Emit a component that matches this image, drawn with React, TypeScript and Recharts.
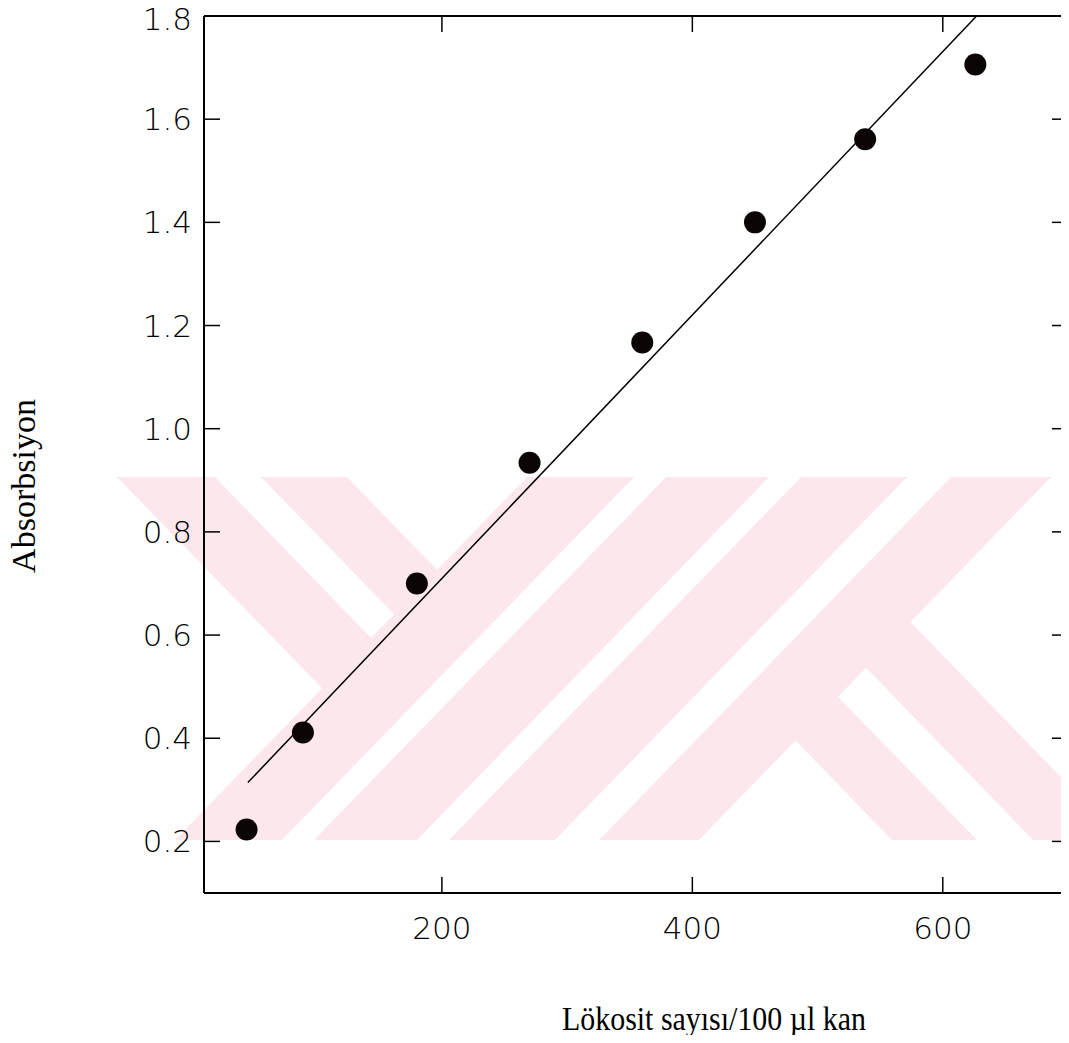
import React from 'react';
import { ComposedChart, Scatter, Line, XAxis, YAxis, Label } from 'recharts';

// Measured data (leukocyte count per 100 µl blood vs absorbance)
const leukocyteCounts = [44, 89, 180, 270, 360, 450, 538, 626];
const absorbanceValues = [0.223, 0.411, 0.7, 0.934, 1.167, 1.4, 1.561, 1.706];

// Regression line end points
const fitX = [45, 627];
const fitY = [0.314, 1.8];

const xTicks = [200, 400, 600];
const yTicks = [0.2, 0.4, 0.6, 0.8, 1.0, 1.2, 1.4, 1.6, 1.8];
const xDomain = [10, 700];
const yDomain = [0.1, 1.8];

const xTitle = 'Lökosit sayısı/100 µl kan';
const yTitle = 'Absorbsiyon';

const points = leukocyteCounts.map((x, i) => ({ x, y: absorbanceValues[i] }));
const fitLine = fitX.map((x, i) => ({ x, y: fitY[i] }));

// layout
const W = 1069;
const H = 1043;
const M_TOP = 15;
const TOP_AXIS_H = 1;
const BOTTOM_AXIS_H = 150;
const LEFT_AXIS_W = 204;
const RIGHT_AXIS_W = 1;
const PLOT_LEFT = LEFT_AXIS_W;
const PLOT_RIGHT = W - RIGHT_AXIS_W;
const PLOT_TOP = M_TOP + TOP_AXIS_H;
const PLOT_BOTTOM = H - BOTTOM_AXIS_H;

const TICK_LEN = 16;
const tickFont = {
  fontFamily: 'DejaVu Sans',
  fontWeight: 200,
  fontSize: 31,
  fill: '#000',
};
const titleFont = { fontFamily: 'Liberation Serif', fontSize: 34, fill: '#000' };

// ---- decorative background watermark (page pixel coordinates) ----
const WM_TOP = 477;
const WM_BOTTOM = 840;
const K = 0.97;
const slashBands: [number, number][] = [
  [175, 282],
  [314, 417],
  [449, 555],
  [599, 699],
];
const leftArms: [number, number][] = [
  [117, 215],
  [261, 347],
];
const rightArms: [number, number][] = [
  [892, 977],
  [1033, 1122],
];

function slashPoly([a, b]: [number, number]) {
  const h = WM_BOTTOM - WM_TOP;
  return [
    [a, WM_BOTTOM],
    [b, WM_BOTTOM],
    [b + K * h, WM_TOP],
    [a + K * h, WM_TOP],
  ];
}

function leftArmPoly([a, b]: [number, number], band: [number, number]) {
  const c = (band[0] + band[1]) / 2;
  const yFor = (e: number) => (c + K * WM_BOTTOM - e + K * WM_TOP) / (2 * K);
  const ya = yFor(a);
  const yb = yFor(b);
  return [
    [a, WM_TOP],
    [b, WM_TOP],
    [b + K * (yb - WM_TOP), yb],
    [a + K * (ya - WM_TOP), ya],
  ];
}

function rightArmPoly([a, b]: [number, number], band: [number, number]) {
  const c = (band[0] + band[1]) / 2;
  const dFor = (e: number) => (e - c) / (2 * K);
  const da = dFor(a);
  const db = dFor(b);
  return [
    [a, WM_BOTTOM],
    [b, WM_BOTTOM],
    [b - K * db, WM_BOTTOM - db],
    [a - K * da, WM_BOTTOM - da],
  ];
}

const Watermark = () => {
  const polys = [
    ...slashBands.map(slashPoly),
    ...leftArms.map((a) => leftArmPoly(a, slashBands[0])),
    ...rightArms.map((a) => rightArmPoly(a, slashBands[3])),
  ];
  return (
    <svg
      width={W}
      height={H}
      style={{ position: 'absolute', left: 0, top: 0, pointerEvents: 'none' }}
    >
      <defs>
        <clipPath id="wmclip">
          <rect x={0} y={WM_TOP} width={W} height={WM_BOTTOM - WM_TOP} />
        </clipPath>
      </defs>
      <g clipPath="url(#wmclip)" fill="#fce8ec">
        {polys.map((p, i) => (
          <polygon key={i} points={p.map((q) => q.join(',')).join(' ')} />
        ))}
      </g>
    </svg>
  );
};

// ---- inward ticks (position along the axis comes from the library) ----
const BottomTick = (props: any) => {
  const { x, payload } = props;
  return (
    <g>
      <line x1={x} y1={PLOT_BOTTOM} x2={x} y2={PLOT_BOTTOM - TICK_LEN} stroke="#000" strokeWidth={1.5} />
      <text x={x} y={PLOT_BOTTOM + 46} textAnchor="middle" {...tickFont}>
        {payload.value}
      </text>
    </g>
  );
};

const TopTick = (props: any) => {
  const { x } = props;
  return <line x1={x} y1={PLOT_TOP} x2={x} y2={PLOT_TOP + TICK_LEN} stroke="#000" strokeWidth={1.5} />;
};

const LeftTick = (props: any) => {
  const { y, payload } = props;
  const baseline = Math.max(y + 11, 30);
  return (
    <g>
      <line x1={PLOT_LEFT} y1={y} x2={PLOT_LEFT + TICK_LEN} y2={y} stroke="#000" strokeWidth={1.5} />
      <text x={PLOT_LEFT - 12} y={baseline} textAnchor="end" {...tickFont}>
        {Number(payload.value).toFixed(1)}
      </text>
    </g>
  );
};

const RightTick = (props: any) => {
  const { y } = props;
  return <line x1={PLOT_RIGHT - TICK_LEN} y1={y} x2={PLOT_RIGHT} y2={y} stroke="#000" strokeWidth={1.5} />;
};

const XTitle = () => (
  <text
    x={714}
    y={1030}
    textAnchor="middle"
    textLength={304}
    lengthAdjust="spacingAndGlyphs"
    {...titleFont}
  >
    {xTitle}
  </text>
);

const YTitle = () => {
  const tx = 35;
  const ty = 486;
  return (
    <text
      x={tx}
      y={ty}
      textAnchor="middle"
      transform={`rotate(-90, ${tx}, ${ty})`}
      {...titleFont}
    >
      {yTitle}
    </text>
  );
};

const Dot = (props: any) => {
  const { cx, cy } = props;
  if (cx == null || cy == null) return null;
  return <circle cx={cx} cy={cy} r={11} fill="#0b0506" />;
};

const axisLine = { stroke: '#000', strokeWidth: 2 };

export default function App() {
  return (
    <div style={{ position: 'relative', width: W, height: H, margin: -8 }}>
      <Watermark />
      <ComposedChart
        width={W}
        height={H}
        margin={{ top: M_TOP, right: 0, bottom: 0, left: 0 }}
        style={{ position: 'relative' }}
      >
        <XAxis
          xAxisId="bottom"
          type="number"
          dataKey="x"
          domain={xDomain}
          allowDataOverflow
          ticks={xTicks}
          interval={0}
          height={BOTTOM_AXIS_H}
          tickSize={0}
          tickMargin={0}
          tickLine={false}
          tick={<BottomTick />}
          axisLine={axisLine}
        >
          <Label content={<XTitle />} />
        </XAxis>
        <XAxis
          xAxisId="top"
          orientation="top"
          type="number"
          dataKey="x"
          domain={xDomain}
          allowDataOverflow
          ticks={xTicks}
          interval={0}
          height={TOP_AXIS_H}
          tickSize={0}
          tickMargin={0}
          tickLine={false}
          tick={<TopTick />}
          axisLine={axisLine}
        />
        <YAxis
          yAxisId="left"
          type="number"
          domain={yDomain}
          allowDataOverflow
          ticks={yTicks}
          interval={0}
          width={LEFT_AXIS_W}
          tickSize={0}
          tickMargin={0}
          tickLine={false}
          tick={<LeftTick />}
          axisLine={axisLine}
        >
          <Label content={<YTitle />} />
        </YAxis>
        <YAxis
          yAxisId="right"
          orientation="right"
          type="number"
          domain={yDomain}
          allowDataOverflow
          ticks={yTicks}
          interval={0}
          width={RIGHT_AXIS_W}
          tickSize={0}
          tickMargin={0}
          tickLine={false}
          tick={<RightTick />}
          axisLine={axisLine}
        />
        <Line
          xAxisId="bottom"
          yAxisId="left"
          data={fitLine}
          dataKey="y"
          type="linear"
          stroke="#000"
          strokeWidth={1.5}
          dot={false}
          activeDot={false}
          isAnimationActive={false}
        />
        <Scatter
          xAxisId="bottom"
          yAxisId="left"
          data={points}
          dataKey="y"
          shape={<Dot />}
          isAnimationActive={false}
        />
      </ComposedChart>
    </div>
  );
}
